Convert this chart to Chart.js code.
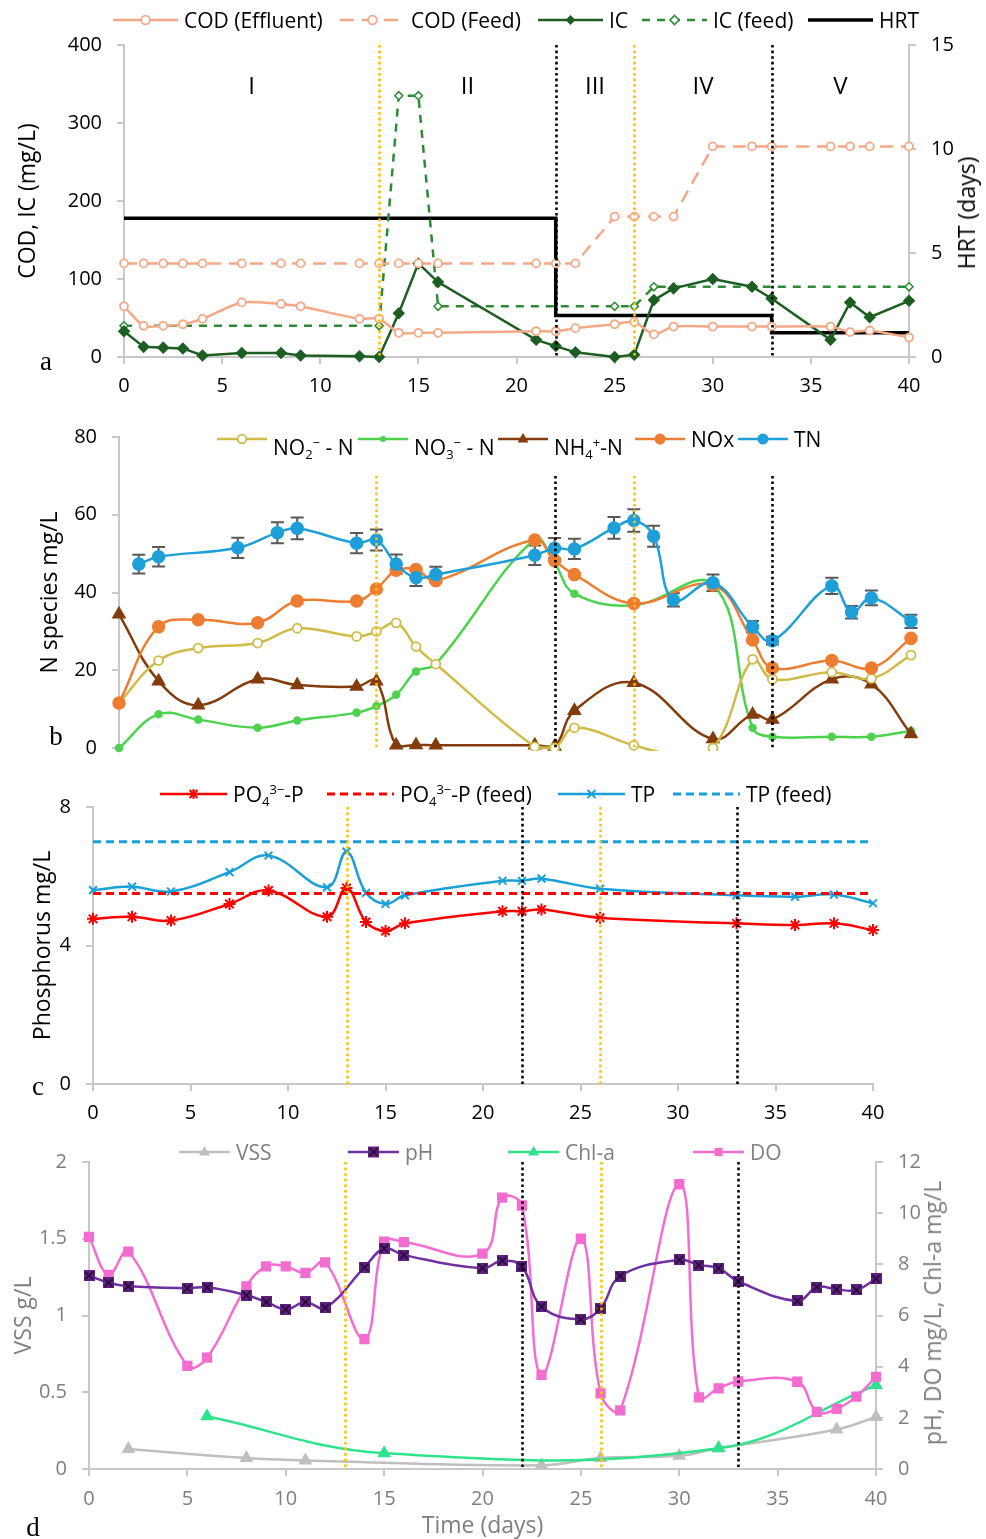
<!DOCTYPE html>
<html>
<head>
<meta charset="utf-8">
<script src="https://cdn.jsdelivr.net/npm/chart.js@4/dist/chart.umd.min.js"></script>
<style>
  body { margin: 0; width: 986px; height: 1539px; position: relative; background: #fff; overflow: hidden;
         font-family: 'Open Sans', sans-serif; }
  canvas { position: absolute; left: 0; }
  .leg { position: absolute; height: 24px; display: flex; align-items: center; font-size: 21px; white-space: nowrap; color: #000; }
  .leg svg { margin-right: 6px; flex: none; }
  .leg sub, .leg sup { font-size: 0.62em; position: relative; vertical-align: baseline; }
  .leg sup { top: -0.62em; }
  .leg sub { top: 0.32em; }
  .leg .low { position: relative; top: 8px; }
  .tag { position: absolute; transform: translate(-50%, -50%); font-family: 'Liberation Serif', serif; font-size: 27px; }
  .rtitle { position: absolute; transform: translate(-50%, -50%) rotate(-90deg); white-space: nowrap; font-size: 23px; }
</style>
</head>
<body>
<canvas id="cA" width="986" height="390" style="top:18px"></canvas>
<canvas id="cB" width="986" height="365" style="top:410px"></canvas>
<canvas id="cC" width="986" height="352" style="top:780px"></canvas>
<canvas id="cD" width="986" height="404" style="top:1135px"></canvas>

<div class="tag" style="left:46px;top:361px">a</div>
<div class="tag" style="left:56px;top:736px">b</div>
<div class="tag" style="left:38px;top:1086px">c</div>
<div class="tag" style="left:33px;top:1527px">d</div>
<div class="rtitle" style="left:966px;top:213px">HRT (days)</div>
<div class="rtitle" style="left:932px;top:1313px;color:#7f7f7f">pH, DO mg/L, Chl-a mg/L</div>

<script>
// ---- 단계 경계 (일) ----
const stageDays = [13, 22, 26, 33];
const stageNames = ['I', 'II', 'III', 'IV', 'V'];

// ---- a: COD / IC / HRT ----
const codDays = [0, 1, 2, 3, 4, 6, 8, 9, 12, 13, 14, 15, 16, 21, 22, 23, 25, 26, 27, 28, 30, 32, 33, 36, 37, 38, 40];
const codEff  = [65, 40, 40, 42, 49, 70, 68, 65, 49, 49, 31, 31, 31, 33, 33, 37, 42, 45, 29, 39, 39, 39, 39, 39, 32, 34, 25];
const codFeed = [120, 120, 120, 120, 120, 120, 120, 120, 120, 120, 120, 120, 120, 120, 120, 120,
                 180, 180, 180, 180, 270, 270, 270, 270, 270, 270, 270];
const icDays = codDays;
const ic = [33, 13, 12, 11, 2, 5, 5, 2, 1, 0, 56, 120, 96, 22, 14, 6, 0, 3, 73, 88, 100, 90, 75, 22, 70, 51, 72];
const icFeedDays = [0, 13, 14, 15, 16, 25, 26, 27, 40];
const icFeed = [40, 40, 335, 335, 65, 65, 65, 90, 90];
const hrtDays = [0, 22, 33, 40];
const hrt = [6.67, 2, 1.17, 1.17];

// ---- b: 질소 ----
const no2Days = [0, 2, 4, 7, 9, 12, 13, 14, 15, 16, 21, 22, 23, 26, 28, 30, 32, 33, 36, 38, 40];
const no2 = [11.6, 22.5, 25.7, 27, 30.8, 28.7, 30, 32.2, 26.1, 21.6, 0.3, 0, 5.2, 0.7, -1.5, 0, 22.8, 17.7, 19.5, 17.9, 23.9];
const nDays = [0, 2, 4, 7, 9, 12, 13, 14, 15, 16, 21, 22, 23, 26, 30, 32, 33, 36, 38, 40];
const no3 = [0, 8.7, 7.3, 5.2, 7.1, 9.1, 10.8, 13.7, 19.7, 21.6, 53.7, 47.5, 39.7, 36.7, 42, 5.2, 2.9, 2.9, 2.9, 4.4];
const nh4 = [34.4, 17.2, 11, 17.7, 16.2, 15.8, 17.2, 0.7, 0.8, 0.7, 0.7, 0.4, 9.6, 16.8, 2.3, 8.6, 7.3, 17.7, 16.4, 3.6];
const nox = [11.6, 31.2, 33, 32.2, 37.8, 37.8, 40.9, 45.7, 45.9, 43, 53.5, 48.2, 44.6, 37.2, 41.9, 27.8, 20.6, 22.5, 20.6, 28.2];
const tnDays = [1, 2, 6, 8, 9, 12, 13, 14, 15, 16, 21, 22, 23, 25, 26, 27, 28, 30, 32, 33, 36, 37, 38, 40];
const tn    = [47.3, 49.2, 51.5, 55.4, 56.5, 52.7, 53.5, 47.3, 43.8, 44.6, 49.6, 51.4, 51.2, 56.6, 58.5, 54.5, 38.1, 42.5, 31.2, 27.6, 41.7, 34.9, 38.6, 32.6];
const tnErr = [2.4, 2.5, 2.6, 2.7, 2.8, 2.6, 2.7, 2.5, 2.1, 2, 2.5, 2.6, 2.6, 2.8, 2.9, 2.7, 1.7, 2.1, 1.5, 1, 2.1, 1.6, 1.9, 1.7];

// ---- c: 인 ----
const pDays = [0, 2, 4, 7, 9, 12, 13, 14, 15, 16, 21, 22, 23, 26, 33, 36, 38, 40];
const po4 = [4.77, 4.83, 4.72, 5.2, 5.59, 4.83, 5.66, 4.68, 4.42, 4.64, 4.99, 4.99, 5.04, 4.8, 4.64, 4.59, 4.64, 4.45];
const tp  = [5.6, 5.7, 5.56, 6.12, 6.6, 5.68, 6.71, 5.52, 5.2, 5.45, 5.87, 5.87, 5.93, 5.64, 5.45, 5.41, 5.47, 5.22];
const feedDays = [0, 40];
const po4Feed = [5.5, 5.5];
const tpFeed = [7.0, 7.0];

// ---- d: VSS / pH / Chl-a / DO ----
const vssDays = [2, 8, 11, 23, 26, 30, 32, 38, 40];
const vss = [0.131, 0.071, 0.056, 0.024, 0.071, 0.086, 0.135, 0.257, 0.339];
const wqDays = [0, 1, 2, 5, 6, 8, 9, 10, 11, 12, 14, 15, 16, 20, 21, 22, 23, 25, 26, 27, 30, 31, 32, 33, 36, 37, 38, 39, 40];
const ph = [7.56, 7.28, 7.14, 7.07, 7.1, 6.79, 6.53, 6.24, 6.53, 6.3, 7.88, 8.62, 8.36, 7.85, 8.14, 7.92, 6.34, 5.85, 6.28, 7.54,
            8.18, 7.97, 7.85, 7.33, 6.57, 7.11, 7.02, 7.0, 7.43];
const dox = [9.07, 7.59, 8.5, 4.03, 4.35, 7.14, 7.92, 7.92, 7.67, 8.08, 5.08, 8.89, 8.87, 8.42, 10.61, 10.3, 3.68, 9.0, 2.96, 2.29,
             11.13, 2.8, 3.15, 3.42, 3.41, 2.23, 2.35, 2.83, 3.6];
const chlDays = [6, 15, 32, 40];
const chl = [2.06, 0.62, 0.81, 3.28];

// ---- 색 ----
const C = {
    cod: '#f4a886', ic: '#1d5e22', icf: '#2e8b35',
    no2: '#cfbc48', no3: '#4dd24f', nh4: '#843c0c', nox: '#ed7d31', tn: '#1f9fd9',
    po4: '#ff0000', tp: '#1aa0d8',
    vss: '#bfbfbf', ph: '#7030a0', chl: '#2ee38b', dox: '#f26dcf',
    axis: '#c8c8c8', grey: '#7f7f7f', yel: '#ffc000',
};
const stageColors = [C.yel, '#000', C.yel, '#000'];

const pts = (xs, ys) => xs.map((x, i) => ({ x, y: ys[i] }));

Chart.defaults.font.family = "'Open Sans', sans-serif";
Chart.defaults.color = '#000';
Chart.defaults.animation = false;

// 세로 점선 + 단계 이름
Chart.register({
    id: 'stages',
    afterDatasetsDraw(chart, _a, o) {
        if (!o.show) return;
        const { ctx, chartArea: ca, scales } = chart;
        const x = scales.x, y = scales.y;
        const top = o.top != null ? y.getPixelForValue(o.top) : ca.top;
        ctx.save();
        ctx.lineWidth = 2.6;
        ctx.setLineDash([2.6, 3]);
        stageDays.forEach((d, i) => {
            const px = Math.round(x.getPixelForValue(d)) + 0.5;
            ctx.strokeStyle = stageColors[i];
            ctx.beginPath(); ctx.moveTo(px, top); ctx.lineTo(px, ca.bottom); ctx.stroke();
        });
        if (o.names) {
            const b = [x.min, ...stageDays, x.max];
            ctx.fillStyle = '#000';
            ctx.font = "24px 'Open Sans', sans-serif";
            ctx.textAlign = 'center'; ctx.textBaseline = 'middle';
            stageNames.forEach((n, i) => ctx.fillText(n, x.getPixelForValue((b[i] + b[i + 1]) / 2), ca.top + o.nameOffset));
        }
        ctx.restore();
    },
});

// TN 오차막대
Chart.register({
    id: 'errbars',
    beforeDatasetsDraw(chart, _a, o) {
        if (!o.errs) return;
        const { ctx } = chart;
        const y = chart.scales.y;
        const meta = chart.getDatasetMeta(o.index);
        const raw = chart.data.datasets[o.index].data;
        ctx.save();
        ctx.strokeStyle = '#595959'; ctx.lineWidth = 2;
        meta.data.forEach((p, i) => {
            const v = raw[i].y, e = o.errs[i];
            const y1 = y.getPixelForValue(v + e), y2 = y.getPixelForValue(v - e);
            ctx.beginPath();
            ctx.moveTo(p.x, y1); ctx.lineTo(p.x, y2);
            ctx.moveTo(p.x - 6.5, y1); ctx.lineTo(p.x + 6.5, y1);
            ctx.moveTo(p.x - 6.5, y2); ctx.lineTo(p.x + 6.5, y2);
            ctx.stroke();
        });
        ctx.restore();
    },
});

function phMarker() {
    const c = document.createElement('canvas');
    c.width = c.height = 11;
    const g = c.getContext('2d');
    g.fillStyle = '#5e2180'; g.fillRect(0, 0, 11, 11);
    g.strokeStyle = '#1c0828'; g.lineWidth = 1.3;
    g.beginPath(); g.moveTo(1.5, 1.5); g.lineTo(9.5, 9.5); g.moveTo(9.5, 1.5); g.lineTo(1.5, 9.5); g.stroke();
    return c;
}

// 축 공통
function xAxis(h, extra) {
    return Object.assign({
        type: 'linear', min: 0, max: 40,
        afterFit: s => { s.height = h; },
        border: { color: C.axis, width: 2 },
        grid: { drawOnChartArea: false, color: C.axis, lineWidth: 2, tickLength: 7 },
        ticks: { stepSize: 5, padding: 10, font: { size: 20 }, maxRotation: 0, autoSkip: false },
    }, extra || {});
}
function yAxis(w, min, max, step, extra) {
    return Object.assign({
        min, max,
        afterFit: s => { s.width = w; },
        border: { color: C.axis, width: 2 },
        grid: { drawOnChartArea: false, color: C.axis, lineWidth: 2, tickLength: 7 },
        ticks: { stepSize: step, padding: 15, font: { size: 20 } },
    }, extra || {});
}
const yTitle = (text, pad, color) => ({ display: true, text, color: color || '#000', font: { size: 23 }, padding: { top: pad, bottom: 0 } });

// ---- a ----
new Chart(document.getElementById('cA'), {
    type: 'line',
    data: { datasets: [
        { label: 'COD (Effluent)', data: pts(codDays, codEff), borderColor: C.cod, backgroundColor: '#fff', borderWidth: 2.5,
          pointStyle: 'circle', pointRadius: 4, pointBorderWidth: 1.8, tension: 0.25, clip: false },
        { label: 'COD (Feed)', data: pts(codDays, codFeed), borderColor: C.cod, backgroundColor: '#fff', borderWidth: 2.5,
          borderDash: [13, 8], pointStyle: 'circle', pointRadius: 4, pointBorderWidth: 1.8, clip: false },
        { label: 'IC', data: pts(icDays, ic), borderColor: C.ic, backgroundColor: C.ic, borderWidth: 2.5,
          pointStyle: 'rectRot', pointRadius: 4.5, clip: false },
        { label: 'IC (feed)', data: pts(icFeedDays, icFeed), borderColor: C.icf, backgroundColor: '#fff', borderWidth: 2.5,
          borderDash: [8, 7], pointStyle: 'rectRot', pointRadius: 4, pointBorderWidth: 1.6, clip: false },
        { label: 'HRT', data: pts(hrtDays, hrt), borderColor: '#000', borderWidth: 3.5, stepped: 'before', pointRadius: 0, yAxisID: 'y1' },
    ] },
    options: {
        responsive: false,
        layout: { padding: { top: 24, left: 0, right: 0, bottom: 0 } },
        plugins: { legend: { display: false }, tooltip: { enabled: false },
                   stages: { show: true, names: true, nameOffset: 42 } },
        scales: {
            x: xAxis(51),
            y: yAxis(124, 0, 400, 100, { title: yTitle('COD, IC (mg/L)', 15) }),
            y1: yAxis(77, 0, 15, 5, { position: 'right' }),
        },
    },
});

// ---- b ----
new Chart(document.getElementById('cB'), {
    type: 'line',
    data: { datasets: [
        { label: 'TN', data: pts(tnDays, tn), borderColor: C.tn, backgroundColor: C.tn, borderWidth: 2.5,
          pointRadius: 5.5, tension: 0.4, clip: false },
        { label: 'NOx', data: pts(nDays, nox), borderColor: C.nox, backgroundColor: C.nox, borderWidth: 2.5,
          pointRadius: 5.5, tension: 0.4, clip: false },
        { label: 'NO2', data: pts(no2Days, no2), borderColor: C.no2, backgroundColor: '#fff', borderWidth: 2.5,
          pointRadius: c => (c.raw && c.raw.y < 0 ? 0 : 4.5), pointBorderWidth: 1.8, tension: 0.4,
          clip: { left: false, top: false, right: false, bottom: 3 } },
        { label: 'NH4', data: pts(nDays, nh4), borderColor: C.nh4, backgroundColor: C.nh4, borderWidth: 2.5,
          pointStyle: 'triangle', pointRadius: 6, tension: 0.4, clip: false },
        { label: 'NO3', data: pts(nDays, no3), borderColor: C.no3, backgroundColor: C.no3, borderWidth: 2.5,
          pointRadius: 3, tension: 0.4, clip: false },
    ] },
    options: {
        responsive: false,
        layout: { padding: { top: 26, left: 0, right: 75, bottom: 17 } },
        plugins: { legend: { display: false }, tooltip: { enabled: false },
                   stages: { show: true, top: 70 }, errbars: { index: 0, errs: tnErr } },
        scales: {
            x: { type: 'linear', min: 0, max: 40, display: false },
            y: yAxis(119, 0, 80, 20, { title: yTitle('N species mg/L', 37) }),
        },
    },
});

// ---- c ----
new Chart(document.getElementById('cC'), {
    type: 'line',
    data: { datasets: [
        { label: 'PO4', data: pts(pDays, po4), borderColor: C.po4, backgroundColor: C.po4, borderWidth: 2.5,
          pointStyle: 'star', pointRadius: 6, pointBorderWidth: 2, tension: 0.4, clip: false },
        { label: 'PO4 feed', data: pts(feedDays, po4Feed), borderColor: C.po4, borderWidth: 3, borderDash: [8, 5], pointRadius: 0 },
        { label: 'TP', data: pts(pDays, tp), borderColor: C.tp, backgroundColor: C.tp, borderWidth: 2.5,
          pointStyle: 'crossRot', pointRadius: 5.5, pointBorderWidth: 2, tension: 0.4, clip: false },
        { label: 'TP feed', data: pts(feedDays, tpFeed), borderColor: C.tp, borderWidth: 3, borderDash: [8, 5], pointRadius: 0 },
    ] },
    options: {
        responsive: false,
        layout: { padding: { top: 25, left: 0, right: 113, bottom: 0 } },
        plugins: { legend: { display: false }, tooltip: { enabled: false }, stages: { show: true } },
        scales: {
            x: xAxis(48),
            y: yAxis(93, 0, 8, 4, { title: yTitle('Phosphorus mg/L', 30) }),
        },
    },
});

// ---- d ----
const greyTicks = { stepSize: 0.5, padding: 15, font: { size: 20 }, color: C.grey, callback: v => String(v) };
new Chart(document.getElementById('cD'), {
    type: 'line',
    data: { datasets: [
        { label: 'pH', data: pts(wqDays, ph), borderColor: C.ph, borderWidth: 2.5, pointStyle: phMarker(),
          tension: 0.4, yAxisID: 'y1', clip: false },
        { label: 'DO', data: pts(wqDays, dox), borderColor: C.dox, backgroundColor: C.dox, borderWidth: 2.5,
          pointStyle: 'rect', pointRadius: 5.5, tension: 0.4, yAxisID: 'y1', clip: false },
        { label: 'Chl-a', data: pts(chlDays, chl), borderColor: C.chl, backgroundColor: C.chl, borderWidth: 2.5,
          pointStyle: 'triangle', pointRadius: 5.5, tension: 0.4, yAxisID: 'y1', clip: false },
        { label: 'VSS', data: pts(vssDays, vss), borderColor: C.vss, backgroundColor: C.vss, borderWidth: 2.5,
          pointStyle: 'triangle', pointRadius: 5.5, tension: 0.4, yAxisID: 'y', clip: false },
    ] },
    options: {
        responsive: false,
        layout: { padding: { top: 23, left: 0, right: 0, bottom: 0 } },
        plugins: { legend: { display: false }, tooltip: { enabled: false }, stages: { show: true } },
        scales: {
            x: xAxis(70, {
                ticks: { stepSize: 5, padding: 11, font: { size: 20 }, color: C.grey, maxRotation: 0, autoSkip: false },
                title: { display: true, text: 'Time (days)', color: C.grey, font: { size: 23, lineHeight: 1 }, padding: { top: 0, bottom: 1 } },
            }),
            y: yAxis(89, 0, 2, 0.5, { ticks: greyTicks, title: yTitle('VSS g/L', 11, C.grey) }),
            y1: yAxis(110, 0, 12, 2, { position: 'right', ticks: Object.assign({}, greyTicks, { stepSize: 2 }) }),
        },
    },
});

// ---- 범례 (HTML) ----
function marker(m, cx, color) {
    const cy = 12;
    switch (m) {
        case 'circleOpen': return `<circle cx="${cx}" cy="${cy}" r="4.3" fill="#fff" stroke="${color}" stroke-width="1.8"/>`;
        case 'circle': return `<circle cx="${cx}" cy="${cy}" r="5.5" fill="${color}"/>`;
        case 'dot': return `<circle cx="${cx}" cy="${cy}" r="3" fill="${color}"/>`;
        case 'diamond': return `<polygon points="${cx},${cy - 5} ${cx + 5},${cy} ${cx},${cy + 5} ${cx - 5},${cy}" fill="${color}"/>`;
        case 'diamondOpen': return `<polygon points="${cx},${cy - 4.5} ${cx + 4.5},${cy} ${cx},${cy + 4.5} ${cx - 4.5},${cy}" fill="#fff" stroke="${color}" stroke-width="1.6"/>`;
        case 'triangle': return `<polygon points="${cx},${cy - 6} ${cx + 5.5},${cy + 3.5} ${cx - 5.5},${cy + 3.5}" fill="${color}"/>`;
        case 'star': return `<path d="M${cx - 5} ${cy}h10M${cx} ${cy - 5}v10M${cx - 4} ${cy - 4}l8 8M${cx + 4} ${cy - 4}l-8 8" stroke="${color}" stroke-width="2"/>`;
        case 'x': return `<path d="M${cx - 4} ${cy - 4}l8 8M${cx + 4} ${cy - 4}l-8 8" stroke="${color}" stroke-width="2"/>`;
        case 'square': return `<rect x="${cx - 4}" y="${cy - 4}" width="8" height="8" fill="${color}"/>`;
        case 'phSquare': return `<rect x="${cx - 5.5}" y="${cy - 5.5}" width="11" height="11" fill="#5e2180"/><path d="M${cx - 4} ${cy - 4}l8 8M${cx + 4} ${cy - 4}l-8 8" stroke="#1c0828" stroke-width="1.3"/>`;
        default: return '';
    }
}
function legend(top, symW, color, items) {
    items.forEach(it => {
        const div = document.createElement('div');
        div.className = 'leg';
        div.style.left = it.x + 'px';
        div.style.top = (top - 12) + 'px';
        div.style.color = color;
        const dash = it.dash ? `stroke-dasharray="${it.dash}"` : '';
        div.innerHTML = `<svg width="${symW}" height="24"><line x1="0" y1="12" x2="${symW}" y2="12" stroke="${it.c}" stroke-width="${it.lw || 2.5}" ${dash}/>${marker(it.m, symW / 2, it.c)}</svg><span class="${it.low ? 'low' : ''}">${it.t}</span>`;
        document.body.appendChild(div);
    });
}
legend(20, 65, '#000', [
    { x: 113, t: 'COD (Effluent)', c: C.cod, m: 'circleOpen' },
    { x: 340, t: 'COD (Feed)', c: C.cod, m: 'circleOpen', dash: '14 8' },
    { x: 538, t: 'IC', c: C.ic, m: 'diamond' },
    { x: 642, t: 'IC (feed)', c: C.icf, m: 'diamondOpen', dash: '8 7' },
    { x: 808, t: 'HRT', c: '#000', lw: 3.5 },
]);
legend(439, 50, '#000', [
    { x: 217, t: 'NO<sub>2</sub><sup>−</sup> - N', c: C.no2, m: 'circleOpen', low: true },
    { x: 358, t: 'NO<sub>3</sub><sup>−</sup> - N', c: C.no3, m: 'dot', low: true },
    { x: 498, t: 'NH<sub>4</sub><sup>+</sup>-N', c: C.nh4, m: 'triangle', low: true },
    { x: 635, t: 'NOx', c: C.nox, m: 'circle' },
    { x: 738, t: 'TN', c: C.tn, m: 'circle' },
]);
legend(794, 67, '#000', [
    { x: 160, t: 'PO<sub>4</sub><sup>3−</sup>-P', c: C.po4, m: 'star' },
    { x: 327, t: 'PO<sub>4</sub><sup>3−</sup>-P (feed)', c: C.po4, dash: '8 5', lw: 3 },
    { x: 558, t: 'TP', c: C.tp, m: 'x' },
    { x: 673, t: 'TP (feed)', c: C.tp, dash: '8 5', lw: 3 },
]);
legend(1152, 51, C.grey, [
    { x: 179, t: 'VSS', c: C.vss, m: 'triangle' },
    { x: 348, t: 'pH', c: C.ph, m: 'phSquare' },
    { x: 508, t: 'Chl-a', c: C.chl, m: 'triangle' },
    { x: 693, t: 'DO', c: C.dox, m: 'square' },
]);
</script>
</body>
</html>
